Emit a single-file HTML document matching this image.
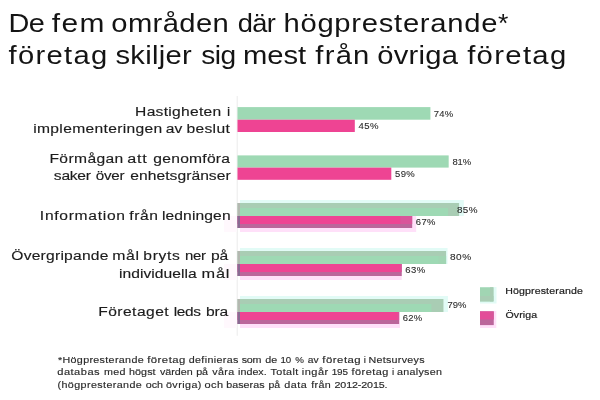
<!DOCTYPE html>
<html><head><meta charset="utf-8"><title>Chart</title>
<style>
html,body{margin:0;padding:0;background:#fff;}
body{width:600px;height:400px;overflow:hidden;font-family:"Liberation Sans",sans-serif;}
svg{display:block;will-change:transform;font-family:"Liberation Sans",sans-serif;}
svg text{white-space:pre;}
</style></head><body>
<svg width="600" height="400" viewBox="0 0 600 400">
<rect width="600" height="400" fill="#ffffff"/>
<rect x="236.7" y="96" width="1" height="239.8" fill="#ececec"/>
<rect x="237.5" y="107.1" width="192.92" height="12.60" fill="#9ed9b4"/>
<rect x="237.5" y="119.7" width="117.31" height="12.30" fill="#ee4493"/>
<rect x="237.5" y="155.4" width="211.17" height="12.20" fill="#9ed9b4"/>
<rect x="237.5" y="167.6" width="153.81" height="12.20" fill="#ee4493"/>
<rect x="240" y="200" width="223.80" height="16" fill="#e2fbf6"/>
<rect x="240" y="216" width="176.17" height="16" fill="#ffe0f9"/>
<rect x="224" y="216" width="12.6" height="16" fill="#fff8fd"/>
<rect x="237.5" y="203" width="221.60" height="13" fill="#a9cdb4"/>
<rect x="237.5" y="216" width="174.67" height="12" fill="#bb669b"/>
<rect x="237.5" y="216" width="174.67" height="8" fill="#d9559a"/>
<rect x="240" y="208" width="208.10" height="8" fill="#9ed9b4"/>
<rect x="240" y="216" width="160.17" height="8" fill="#ee4493"/>
<rect x="237.5" y="203" width="2.5" height="13" fill="#b3b8b0"/>
<rect x="237.5" y="216" width="2.5" height="12" fill="#8a6a92"/>
<rect x="240" y="248" width="207.56" height="16" fill="#e2fbf6"/>
<rect x="240" y="264" width="161.74" height="16" fill="#ffe0f9"/>
<rect x="224" y="264" width="12.6" height="16" fill="#fff8fd"/>
<rect x="237.5" y="251" width="208.56" height="13" fill="#a9cdb4"/>
<rect x="237.5" y="264" width="164.24" height="12" fill="#bb669b"/>
<rect x="237.5" y="264" width="164.24" height="8" fill="#d9559a"/>
<rect x="240" y="256" width="206.06" height="8" fill="#9ed9b4"/>
<rect x="438.56" y="256" width="7.5" height="8" fill="#a1d5b3"/>
<rect x="240" y="264" width="160.24" height="8" fill="#ee4493"/>
<rect x="237.5" y="251" width="2.5" height="13" fill="#b3b8b0"/>
<rect x="237.5" y="264" width="2.5" height="12" fill="#8a6a92"/>
<rect x="240" y="296" width="207.95" height="16" fill="#e2fbf6"/>
<rect x="240" y="312" width="159.93" height="16" fill="#ffe0f9"/>
<rect x="224" y="312" width="12.6" height="16" fill="#fff8fd"/>
<rect x="237.5" y="299" width="205.95" height="13" fill="#a9cdb4"/>
<rect x="237.5" y="312" width="161.63" height="12" fill="#bb669b"/>
<rect x="237.5" y="312" width="161.63" height="8" fill="#d9559a"/>
<rect x="240" y="304" width="191.45" height="8" fill="#9ed9b4"/>
<rect x="240" y="312" width="157.63" height="8" fill="#ee4493"/>
<rect x="237.5" y="299" width="2.5" height="13" fill="#b3b8b0"/>
<rect x="237.5" y="312" width="2.5" height="12" fill="#8a6a92"/>
<rect x="480" y="287" width="16.5" height="16.5" fill="#e2fbf6"/>
<rect x="480" y="287.3" width="13.4" height="14.1" fill="#a1d5b3"/>
<rect x="480" y="296" width="13.4" height="5.4" fill="#a9cdb4"/>
<rect x="490" y="287.3" width="3.4" height="14.1" fill="#a9cdb4"/>
<rect x="480" y="311" width="16.3" height="17" fill="#ffe0f9"/>
<rect x="480" y="311.4" width="13.75" height="13.7" fill="#bb669b"/>
<rect x="480" y="311.4" width="10" height="8.1" fill="#e34d99"/>
<rect x="490" y="311.4" width="3.75" height="8.1" fill="#d9559a"/>
<text transform="translate(505.13,294.20) scale(1.1000,1)" font-size="9.6" letter-spacing="0.147" fill="#222" stroke="#222" stroke-width="0.2">Högpresterande</text>
<text transform="translate(505.50,318.20) scale(1.1000,1)" font-size="9.6" letter-spacing="0.105" fill="#222" stroke="#222" stroke-width="0.2">Övriga</text>
<text transform="translate(8.42,31.80) scale(1.1279,1)" font-size="25.6" letter-spacing="-0.512" fill="#141414">De</text>
<text transform="translate(51.75,31.80) scale(1.1690,1)" font-size="25.6" letter-spacing="1.152" fill="#141414">fem</text>
<text transform="translate(111.26,31.80) scale(1.1400,1)" font-size="25.6" letter-spacing="0.356" fill="#141414">områden</text>
<text transform="translate(237.64,31.80) scale(1.0639,1)" font-size="25.6" letter-spacing="-0.512" fill="#141414">där</text>
<text transform="translate(283.46,31.80) scale(1.1400,1)" font-size="25.6" letter-spacing="0.648" fill="#141414">högpresterande</text>
<text transform="translate(497.93,31.80) scale(1.0400,1)" font-size="25.6" letter-spacing="0.000" fill="#141414">*</text>
<text transform="translate(8.56,64.00) scale(1.1406,1)" font-size="25.6" letter-spacing="1.152" fill="#141414">företag</text>
<text transform="translate(115.45,64.00) scale(1.1400,1)" font-size="25.6" letter-spacing="0.245" fill="#141414">skiljer</text>
<text transform="translate(201.23,64.00) scale(1.0978,1)" font-size="25.6" letter-spacing="-0.512" fill="#141414">sig</text>
<text transform="translate(243.03,64.00) scale(1.1400,1)" font-size="25.6" letter-spacing="-0.020" fill="#141414">mest</text>
<text transform="translate(315.36,64.00) scale(1.1400,1)" font-size="25.6" letter-spacing="1.080" fill="#141414">från</text>
<text transform="translate(377.16,64.00) scale(1.1400,1)" font-size="25.6" letter-spacing="0.231" fill="#141414">övriga</text>
<text transform="translate(467.16,64.00) scale(1.1441,1)" font-size="25.6" letter-spacing="1.152" fill="#141414">företag</text>
<text transform="translate(135.11,116.00) scale(1.1400,1)" font-size="13.7" letter-spacing="0.241" fill="#1c1c1c" stroke="#1c1c1c" stroke-width="0.15">Hastigheten</text>
<text transform="translate(226.96,116.00) scale(1.0400,1)" font-size="13.7" letter-spacing="0.000" fill="#1c1c1c" stroke="#1c1c1c" stroke-width="0.15">i</text>
<text transform="translate(33.25,133.20) scale(1.1400,1)" font-size="13.7" letter-spacing="0.281" fill="#1c1c1c" stroke="#1c1c1c" stroke-width="0.15">implementeringen</text>
<text transform="translate(165.84,133.20) scale(1.1400,1)" font-size="13.7" letter-spacing="0.023" fill="#1c1c1c" stroke="#1c1c1c" stroke-width="0.15">av</text>
<text transform="translate(186.48,133.20) scale(1.1400,1)" font-size="13.7" letter-spacing="0.276" fill="#1c1c1c" stroke="#1c1c1c" stroke-width="0.15">beslut</text>
<text transform="translate(49.41,163.00) scale(1.1400,1)" font-size="13.7" letter-spacing="0.337" fill="#1c1c1c" stroke="#1c1c1c" stroke-width="0.15">Förmågan</text>
<text transform="translate(127.31,163.00) scale(1.1780,1)" font-size="13.7" letter-spacing="0.616" fill="#1c1c1c" stroke="#1c1c1c" stroke-width="0.15">att</text>
<text transform="translate(153.34,163.00) scale(1.1400,1)" font-size="13.7" letter-spacing="0.216" fill="#1c1c1c" stroke="#1c1c1c" stroke-width="0.15">genomföra</text>
<text transform="translate(53.87,180.40) scale(1.1400,1)" font-size="13.7" letter-spacing="-0.246" fill="#1c1c1c" stroke="#1c1c1c" stroke-width="0.15">saker</text>
<text transform="translate(95.85,180.40) scale(1.1104,1)" font-size="13.7" letter-spacing="-0.274" fill="#1c1c1c" stroke="#1c1c1c" stroke-width="0.15">över</text>
<text transform="translate(130.34,180.40) scale(1.1400,1)" font-size="13.7" letter-spacing="0.034" fill="#1c1c1c" stroke="#1c1c1c" stroke-width="0.15">enhetsgränser</text>
<text transform="translate(39.85,220.00) scale(1.1409,1)" font-size="13.7" letter-spacing="0.616" fill="#1c1c1c" stroke="#1c1c1c" stroke-width="0.15">Information</text>
<text transform="translate(129.37,220.00) scale(1.1400,1)" font-size="13.7" letter-spacing="0.500" fill="#1c1c1c" stroke="#1c1c1c" stroke-width="0.15">från</text>
<text transform="translate(161.95,220.00) scale(1.1400,1)" font-size="13.7" letter-spacing="0.097" fill="#1c1c1c" stroke="#1c1c1c" stroke-width="0.15">ledningen</text>
<text transform="translate(11.26,260.20) scale(1.1400,1)" font-size="13.7" letter-spacing="0.207" fill="#1c1c1c" stroke="#1c1c1c" stroke-width="0.15">Övergripande</text>
<text transform="translate(112.23,260.20) scale(1.1548,1)" font-size="13.7" letter-spacing="0.616" fill="#1c1c1c" stroke="#1c1c1c" stroke-width="0.15">mål</text>
<text transform="translate(143.28,260.20) scale(1.1400,1)" font-size="13.7" letter-spacing="0.594" fill="#1c1c1c" stroke="#1c1c1c" stroke-width="0.15">bryts</text>
<text transform="translate(184.89,260.20) scale(1.0928,1)" font-size="13.7" letter-spacing="-0.274" fill="#1c1c1c" stroke="#1c1c1c" stroke-width="0.15">ner</text>
<text transform="translate(210.98,260.20) scale(1.1400,1)" font-size="13.7" letter-spacing="-0.053" fill="#1c1c1c" stroke="#1c1c1c" stroke-width="0.15">på</text>
<text transform="translate(118.95,277.50) scale(1.1400,1)" font-size="13.7" letter-spacing="0.043" fill="#1c1c1c" stroke="#1c1c1c" stroke-width="0.15">individuella</text>
<text transform="translate(201.60,277.50) scale(1.1921,1)" font-size="13.7" letter-spacing="0.616" fill="#1c1c1c" stroke="#1c1c1c" stroke-width="0.15">mål</text>
<text transform="translate(98.21,316.30) scale(1.1400,1)" font-size="13.7" letter-spacing="0.390" fill="#1c1c1c" stroke="#1c1c1c" stroke-width="0.15">Företaget</text>
<text transform="translate(173.71,316.30) scale(1.1238,1)" font-size="13.7" letter-spacing="-0.274" fill="#1c1c1c" stroke="#1c1c1c" stroke-width="0.15">leds</text>
<text transform="translate(205.98,316.30) scale(1.1400,1)" font-size="13.7" letter-spacing="-0.128" fill="#1c1c1c" stroke="#1c1c1c" stroke-width="0.15">bra</text>
<text transform="translate(433.63,116.90) scale(1.0500,1)" font-size="9.0" letter-spacing="0.324" fill="#2c2c2c" stroke="#2c2c2c" stroke-width="0.1">74%</text>
<text transform="translate(358.48,129.20) scale(1.0647,1)" font-size="9.0" letter-spacing="0.405" fill="#2c2c2c" stroke="#2c2c2c" stroke-width="0.1">45%</text>
<text transform="translate(452.40,164.80) scale(1.0500,1)" font-size="9.0" letter-spacing="-0.091" fill="#2c2c2c" stroke="#2c2c2c" stroke-width="0.1">81%</text>
<text transform="translate(394.92,177.40) scale(1.0574,1)" font-size="9.0" letter-spacing="0.405" fill="#2c2c2c" stroke="#2c2c2c" stroke-width="0.1">59%</text>
<text transform="translate(456.88,213.00) scale(1.0973,1)" font-size="9.0" letter-spacing="0.405" fill="#2c2c2c" stroke="#2c2c2c" stroke-width="0.1">85%</text>
<text transform="translate(415.83,225.40) scale(1.0500,1)" font-size="9.0" letter-spacing="0.371" fill="#2c2c2c" stroke="#2c2c2c" stroke-width="0.1">67%</text>
<text transform="translate(450.07,260.30) scale(1.1194,1)" font-size="9.0" letter-spacing="0.405" fill="#2c2c2c" stroke="#2c2c2c" stroke-width="0.1">80%</text>
<text transform="translate(405.22,273.30) scale(1.0571,1)" font-size="9.0" letter-spacing="0.405" fill="#2c2c2c" stroke="#2c2c2c" stroke-width="0.1">63%</text>
<text transform="translate(447.53,308.30) scale(1.0500,1)" font-size="9.0" letter-spacing="-0.057" fill="#2c2c2c" stroke="#2c2c2c" stroke-width="0.1">79%</text>
<text transform="translate(402.83,320.80) scale(1.0500,1)" font-size="9.0" letter-spacing="0.181" fill="#2c2c2c" stroke="#2c2c2c" stroke-width="0.1">62%</text>
<text transform="translate(58.01,363.30) scale(1.1400,1)" font-size="9.4" letter-spacing="0.296" fill="#2a2a2a" stroke="#2a2a2a" stroke-width="0.15">*Högpresterande</text>
<text transform="translate(147.13,363.30) scale(1.2038,1)" font-size="9.4" letter-spacing="0.423" fill="#2a2a2a" stroke="#2a2a2a" stroke-width="0.15">företag</text>
<text transform="translate(188.74,363.30) scale(1.1400,1)" font-size="9.4" letter-spacing="0.310" fill="#2a2a2a" stroke="#2a2a2a" stroke-width="0.15">definieras</text>
<text transform="translate(241.71,363.30) scale(1.1396,1)" font-size="9.4" letter-spacing="-0.188" fill="#2a2a2a" stroke="#2a2a2a" stroke-width="0.15">som</text>
<text transform="translate(265.34,363.30) scale(1.1400,1)" font-size="9.4" letter-spacing="-0.074" fill="#2a2a2a" stroke="#2a2a2a" stroke-width="0.15">de</text>
<text transform="translate(280.57,363.30) scale(1.0339,1)" font-size="9.4" letter-spacing="-0.188" fill="#2a2a2a" stroke="#2a2a2a" stroke-width="0.15">10</text>
<text transform="translate(295.30,363.30) scale(1.0400,1)" font-size="9.4" letter-spacing="0.000" fill="#2a2a2a" stroke="#2a2a2a" stroke-width="0.15">%</text>
<text transform="translate(307.86,363.30) scale(1.0961,1)" font-size="9.4" letter-spacing="-0.188" fill="#2a2a2a" stroke="#2a2a2a" stroke-width="0.15">av</text>
<text transform="translate(322.33,363.30) scale(1.2071,1)" font-size="9.4" letter-spacing="0.423" fill="#2a2a2a" stroke="#2a2a2a" stroke-width="0.15">företag</text>
<text transform="translate(363.76,363.30) scale(1.0400,1)" font-size="9.4" letter-spacing="0.000" fill="#2a2a2a" stroke="#2a2a2a" stroke-width="0.15">i</text>
<text transform="translate(368.52,363.30) scale(1.1400,1)" font-size="9.4" letter-spacing="0.239" fill="#2a2a2a" stroke="#2a2a2a" stroke-width="0.15">Netsurveys</text>
<text transform="translate(57.23,375.40) scale(1.1801,1)" font-size="9.4" letter-spacing="0.423" fill="#2a2a2a" stroke="#2a2a2a" stroke-width="0.15">databas</text>
<text transform="translate(104.08,375.40) scale(1.1400,1)" font-size="9.4" letter-spacing="0.241" fill="#2a2a2a" stroke="#2a2a2a" stroke-width="0.15">med</text>
<text transform="translate(129.05,375.40) scale(1.1400,1)" font-size="9.4" letter-spacing="0.072" fill="#2a2a2a" stroke="#2a2a2a" stroke-width="0.15">högst</text>
<text transform="translate(159.97,375.40) scale(1.1400,1)" font-size="9.4" letter-spacing="-0.012" fill="#2a2a2a" stroke="#2a2a2a" stroke-width="0.15">värden</text>
<text transform="translate(196.30,375.40) scale(1.1389,1)" font-size="9.4" letter-spacing="-0.188" fill="#2a2a2a" stroke="#2a2a2a" stroke-width="0.15">på</text>
<text transform="translate(212.27,375.40) scale(1.1400,1)" font-size="9.4" letter-spacing="0.309" fill="#2a2a2a" stroke="#2a2a2a" stroke-width="0.15">våra</text>
<text transform="translate(237.98,375.40) scale(1.1400,1)" font-size="9.4" letter-spacing="0.036" fill="#2a2a2a" stroke="#2a2a2a" stroke-width="0.15">index.</text>
<text transform="translate(270.56,375.40) scale(1.1400,1)" font-size="9.4" letter-spacing="0.370" fill="#2a2a2a" stroke="#2a2a2a" stroke-width="0.15">Totalt</text>
<text transform="translate(301.76,375.40) scale(1.1693,1)" font-size="9.4" letter-spacing="0.423" fill="#2a2a2a" stroke="#2a2a2a" stroke-width="0.15">ingår</text>
<text transform="translate(331.76,375.40) scale(1.0550,1)" font-size="9.4" letter-spacing="-0.188" fill="#2a2a2a" stroke="#2a2a2a" stroke-width="0.15">195</text>
<text transform="translate(351.54,375.40) scale(1.1620,1)" font-size="9.4" letter-spacing="0.423" fill="#2a2a2a" stroke="#2a2a2a" stroke-width="0.15">företag</text>
<text transform="translate(392.06,375.40) scale(1.0400,1)" font-size="9.4" letter-spacing="0.000" fill="#2a2a2a" stroke="#2a2a2a" stroke-width="0.15">i</text>
<text transform="translate(397.04,375.40) scale(1.1400,1)" font-size="9.4" letter-spacing="0.255" fill="#2a2a2a" stroke="#2a2a2a" stroke-width="0.15">analysen</text>
<text transform="translate(57.53,387.90) scale(1.1400,1)" font-size="9.4" letter-spacing="0.357" fill="#2a2a2a" stroke="#2a2a2a" stroke-width="0.15">(högpresterande</text>
<text transform="translate(145.74,387.90) scale(1.1400,1)" font-size="9.4" letter-spacing="0.032" fill="#2a2a2a" stroke="#2a2a2a" stroke-width="0.15">och</text>
<text transform="translate(165.94,387.90) scale(1.1400,1)" font-size="9.4" letter-spacing="0.404" fill="#2a2a2a" stroke="#2a2a2a" stroke-width="0.15">övriga)</text>
<text transform="translate(204.43,387.90) scale(1.1672,1)" font-size="9.4" letter-spacing="0.423" fill="#2a2a2a" stroke="#2a2a2a" stroke-width="0.15">och</text>
<text transform="translate(226.20,387.90) scale(1.1400,1)" font-size="9.4" letter-spacing="0.036" fill="#2a2a2a" stroke="#2a2a2a" stroke-width="0.15">baseras</text>
<text transform="translate(268.52,387.90) scale(1.1182,1)" font-size="9.4" letter-spacing="-0.188" fill="#2a2a2a" stroke="#2a2a2a" stroke-width="0.15">på</text>
<text transform="translate(284.24,387.90) scale(1.1473,1)" font-size="9.4" letter-spacing="0.423" fill="#2a2a2a" stroke="#2a2a2a" stroke-width="0.15">data</text>
<text transform="translate(311.14,387.90) scale(1.1400,1)" font-size="9.4" letter-spacing="0.314" fill="#2a2a2a" stroke="#2a2a2a" stroke-width="0.15">från</text>
<text transform="translate(334.46,387.90) scale(1.1400,1)" font-size="9.4" letter-spacing="-0.100" fill="#2a2a2a" stroke="#2a2a2a" stroke-width="0.15">2012-2015.</text>
</svg>
</body></html>
